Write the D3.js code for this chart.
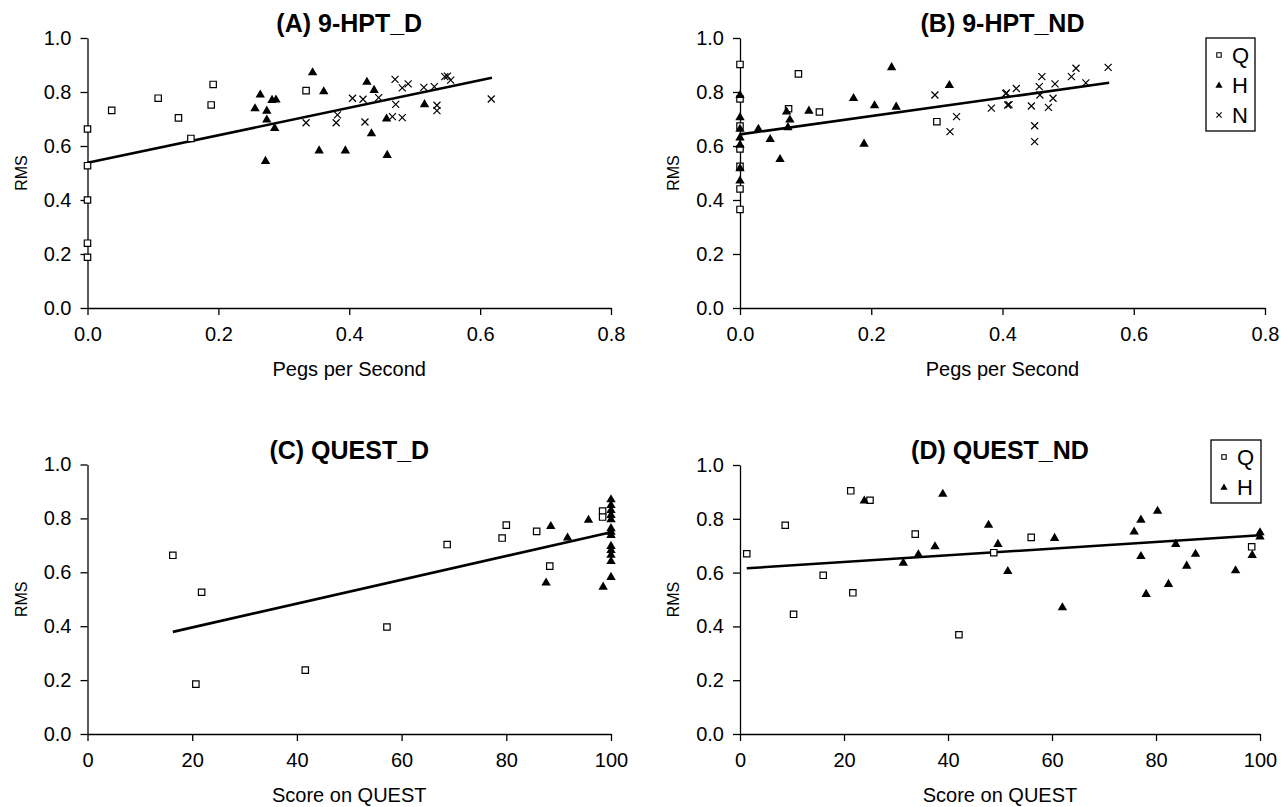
<!DOCTYPE html>
<html>
<head>
<meta charset="utf-8">
<script src="https://cdn.jsdelivr.net/npm/d3@7"></script>
<style>
  body { margin: 0; background: #fff; }
  svg text { font-family: "Liberation Sans", Arial, sans-serif; fill: #000; }
</style>
</head>
<body>
<div id="chart"></div>
<script>
// ---- data: [x, RMS] ----
const aQ = [[0, 0.663], [0, 0.527], [0, 0.40], [0, 0.24], [0, 0.188], [0.037, 0.732], [0.108, 0.777],
  [0.139, 0.704], [0.158, 0.628], [0.189, 0.752], [0.192, 0.828], [0.334, 0.805]];
const aH = [[0.264, 0.793], [0.256, 0.742], [0.274, 0.733], [0.274, 0.70], [0.272, 0.547], [0.282, 0.773],
  [0.288, 0.774], [0.286, 0.669], [0.344, 0.875], [0.361, 0.805], [0.354, 0.586], [0.394, 0.586],
  [0.427, 0.840], [0.438, 0.810], [0.434, 0.649], [0.458, 0.569], [0.515, 0.757], [0.457, 0.704]];
const aN = [[0.334, 0.686], [0.380, 0.686], [0.382, 0.715], [0.405, 0.777], [0.421, 0.773], [0.424, 0.689],
  [0.445, 0.779], [0.470, 0.847], [0.481, 0.815], [0.490, 0.830], [0.471, 0.754], [0.466, 0.709],
  [0.481, 0.705], [0.514, 0.817], [0.530, 0.820], [0.534, 0.751], [0.534, 0.731], [0.546, 0.857],
  [0.555, 0.844], [0.550, 0.859], [0.617, 0.774]];
const aTrend = [[0, 0.538], [0.618, 0.853]];

const bQ = [[0, 0.902], [0, 0.774], [0, 0.674], [0, 0.589], [0, 0.525], [0, 0.441], [0, 0.365],
  [0.089, 0.867], [0.074, 0.738], [0.121, 0.726], [0.300, 0.690]];
const bH = [[0, 0.791], [0, 0.709], [0, 0.666], [0, 0.634], [0, 0.607], [0, 0.520], [0, 0.474],
  [0.028, 0.666], [0.046, 0.628], [0.061, 0.554], [0.071, 0.730], [0.076, 0.700], [0.073, 0.672],
  [0.105, 0.733], [0.173, 0.780], [0.189, 0.611], [0.205, 0.753], [0.231, 0.894], [0.238, 0.748],
  [0.319, 0.828]];
const bN = [[0.297, 0.789], [0.320, 0.653], [0.330, 0.709], [0.383, 0.740], [0.405, 0.794], [0.408, 0.752],
  [0.406, 0.797], [0.421, 0.813], [0.410, 0.753], [0.444, 0.748], [0.449, 0.675], [0.449, 0.616],
  [0.456, 0.820], [0.457, 0.789], [0.460, 0.857], [0.470, 0.743], [0.477, 0.777], [0.480, 0.830],
  [0.505, 0.857], [0.512, 0.888], [0.527, 0.834], [0.561, 0.891]];
const bTrend = [[0, 0.643], [0.5625, 0.834]];

const cQ = [[16.3, 0.663], [21.8, 0.526], [20.7, 0.185], [41.6, 0.237], [57.2, 0.397], [68.7, 0.703],
  [79.2, 0.727], [80.0, 0.775], [85.8, 0.752], [88.3, 0.623], [98.4, 0.827], [98.4, 0.805]];
const cH = [[88.5, 0.774], [87.6, 0.564], [91.7, 0.731], [95.7, 0.797], [98.5, 0.549],
  [100, 0.873], [100, 0.852], [100, 0.833], [100, 0.815], [100, 0.799], [100, 0.766], [100, 0.753],
  [100, 0.741], [100, 0.700], [100, 0.685], [100, 0.667], [100, 0.644], [100, 0.585]];
const cTrend = [[16.3, 0.379], [100, 0.749]];

const dQ = [[1.3, 0.670], [8.7, 0.776], [10.3, 0.445], [16.0, 0.590], [21.3, 0.904], [21.7, 0.525],
  [25.0, 0.869], [33.7, 0.743], [42.1, 0.369], [48.8, 0.674], [56.0, 0.731], [98.4, 0.696]];
const dH = [[23.9, 0.870], [31.4, 0.639], [34.3, 0.670], [37.5, 0.700], [39.0, 0.895], [47.8, 0.780],
  [49.6, 0.709], [51.5, 0.608], [60.5, 0.731], [62.0, 0.473], [75.8, 0.755], [77.1, 0.799],
  [77.1, 0.664], [80.3, 0.832], [78.1, 0.523], [82.4, 0.560], [83.8, 0.709], [85.9, 0.628],
  [87.6, 0.672], [95.3, 0.611], [98.5, 0.668], [100, 0.752], [100, 0.736]];
const dTrend = [[1.3, 0.616], [100, 0.739]];

const rmsTicks = [0, 0.2, 0.4, 0.6, 0.8, 1.0];
const pegTicks = [0, 0.2, 0.4, 0.6, 0.8];
const questTicks = [0, 20, 40, 60, 80, 100];

const width = 1288, height = 807;

const svg = d3.select("#chart").append("svg")
  .attr("width", width)
  .attr("height", height);

const sq = "M-3.2,-3.2H3.2V3.2H-3.2Z";
const tri = "M0,-4.5L4.7,3.6H-4.7Z";
const crs = "M-3.5,-3.5L3.5,3.5M-3.5,3.5L3.5,-3.5";

function drawPanel(p) {
  const x = d3.scaleLinear().domain(p.xDomain).range(p.xRange);
  const y = d3.scaleLinear().domain([0, 1]).range(p.yRange);
  const g = svg.append("g");

  const yAx = g.append("g")
    .attr("transform", `translate(${p.xRange[0]},0)`)
    .call(d3.axisLeft(y).tickValues(rmsTicks).tickFormat(d3.format(".1f")).tickSize(7).tickSizeOuter(0).tickPadding(9));
  const xAx = g.append("g")
    .attr("transform", `translate(0,${p.yRange[0]})`)
    .call(d3.axisBottom(x).tickValues(p.xTicks).tickFormat(p.xFormat).tickSize(7).tickSizeOuter(0).tickPadding(12));

  [yAx, xAx].forEach(ax => {
    ax.select(".domain").attr("stroke", "#000").attr("stroke-width", 1.3);
    ax.selectAll(".tick line").attr("stroke", "#000").attr("stroke-width", 1.3);
    ax.selectAll(".tick text")
      .attr("font-size", 20)
      .attr("font-family", "Liberation Sans, Arial, sans-serif")
      .attr("fill", "#000");
  });

  // trend line
  g.append("path")
    .attr("d", d3.line().x(d => x(d[0])).y(d => y(d[1]))(p.trend))
    .attr("stroke", "#000")
    .attr("stroke-width", 2.6)
    .attr("fill", "none");

  // points
  const series = [
    { data: p.q, path: sq, fill: "#fff", stroke: "#000", sw: 1.2 },
    { data: p.h, path: tri, fill: "#000", stroke: "none", sw: 0 },
    { data: p.n || [], path: crs, fill: "none", stroke: "#000", sw: 1.2 }
  ];
  series.forEach(s => {
    g.append("g").selectAll("path")
      .data(s.data)
      .join("path")
      .attr("transform", d => `translate(${x(d[0])},${y(d[1])})`)
      .attr("d", s.path)
      .attr("fill", s.fill)
      .attr("stroke", s.stroke)
      .attr("stroke-width", s.sw);
  });

  const cx = (p.xRange[0] + p.xRange[1]) / 2;
  g.append("text")
    .attr("x", cx)
    .attr("y", p.yRange[1] - 6)
    .attr("text-anchor", "middle")
    .attr("font-size", 25)
    .attr("font-weight", "bold")
    .text(p.title);

  g.append("text")
    .attr("x", cx)
    .attr("y", p.yRange[0] + 68)
    .attr("text-anchor", "middle")
    .attr("font-size", 20)
    .text(p.xLabel);

  g.append("text")
    .attr("transform", `translate(${p.xRange[0] - 61},${(p.yRange[0] + p.yRange[1]) / 2}) rotate(-90)`)
    .attr("text-anchor", "middle")
    .attr("font-size", 16)
    .text("RMS");

  if (p.legend) {
    const L = p.legend;
    const lg = g.append("g").attr("transform", `translate(${L.x},${L.y})`);
    lg.append("rect")
      .attr("width", L.w).attr("height", L.items.length * 30 + 3)
      .attr("fill", "#fff").attr("stroke", "#000").attr("stroke-width", 1.3);
    const shapes = { Q: "M-2.2,-2.2H2.2V2.2H-2.2Z", H: "M0,-3.4L3.6,2.8H-3.6Z", N: "M-2.6,-2.6L2.6,2.6M-2.6,2.6L2.6,-2.6" };
    L.items.forEach((k, i) => {
      const yy = 17 + i * 30;
      lg.append("path")
        .attr("transform", `translate(13,${yy})`)
        .attr("d", shapes[k])
        .attr("fill", k === "Q" ? "#fff" : k === "H" ? "#000" : "none")
        .attr("stroke", k === "H" ? "none" : "#000")
        .attr("stroke-width", 1.1);
      lg.append("text")
        .attr("x", 26).attr("y", yy + 8)
        .attr("font-size", 22)
        .text(k);
    });
  }
}

const pegFmt = d3.format(".1f");
const questFmt = d3.format("d");

drawPanel({ title: "(A) 9-HPT_D", xLabel: "Pegs per Second", xDomain: [0, 0.8], xRange: [87.5, 611], yRange: [308, 38],
  xTicks: pegTicks, xFormat: pegFmt, q: aQ, h: aH, n: aN, trend: aTrend });
drawPanel({ title: "(B) 9-HPT_ND", xLabel: "Pegs per Second", xDomain: [0, 0.8], xRange: [740, 1265], yRange: [308, 38],
  xTicks: pegTicks, xFormat: pegFmt, q: bQ, h: bH, n: bN, trend: bTrend,
  legend: { x: 1206, y: 38, w: 49, items: ["Q", "H", "N"] } });
drawPanel({ title: "(C) QUEST_D", xLabel: "Score on QUEST", xDomain: [0, 100], xRange: [87.5, 611], yRange: [734, 464.5],
  xTicks: questTicks, xFormat: questFmt, q: cQ, h: cH, trend: cTrend });
drawPanel({ title: "(D) QUEST_ND", xLabel: "Score on QUEST", xDomain: [0, 100], xRange: [740, 1260], yRange: [734, 465],
  xTicks: questTicks, xFormat: questFmt, q: dQ, h: dH, trend: dTrend,
  legend: { x: 1211, y: 440, w: 50, items: ["Q", "H"] } });
</script>
</body>
</html>
